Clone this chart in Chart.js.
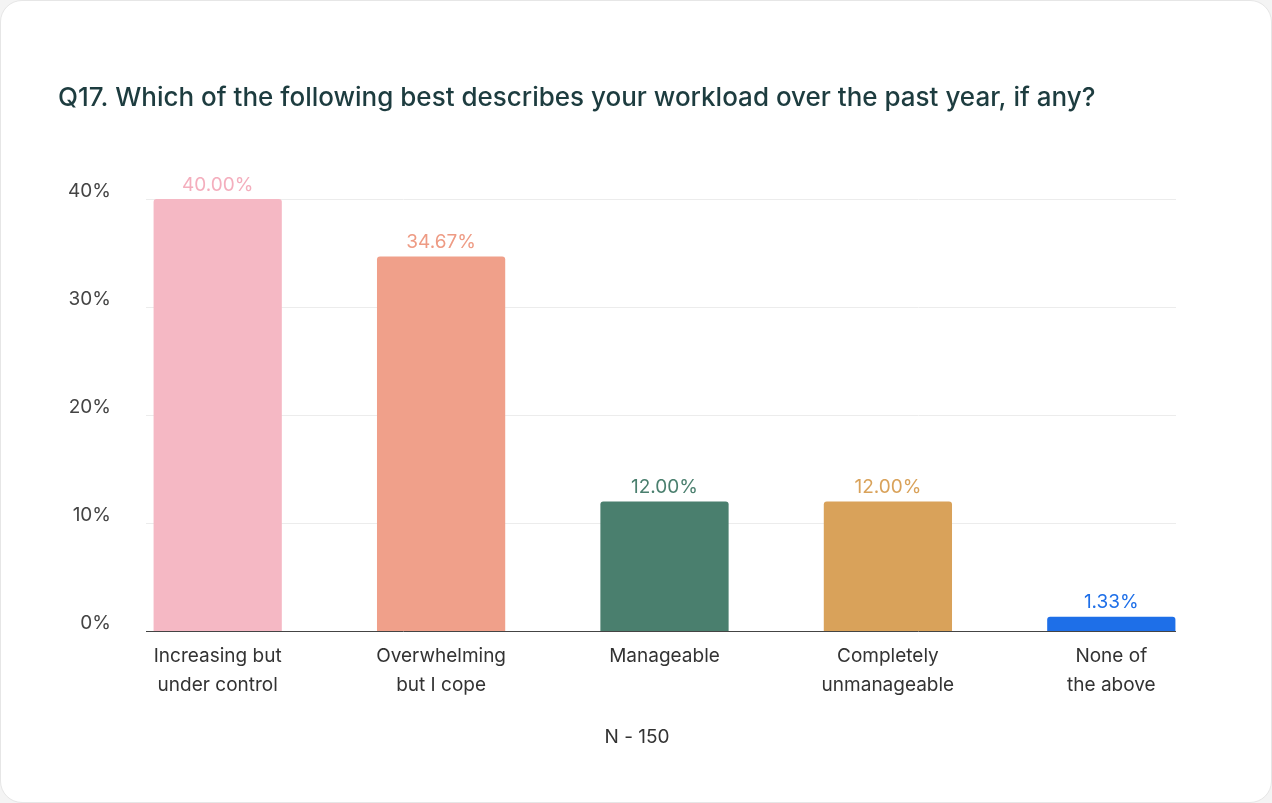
<!DOCTYPE html>
<html><head><meta charset="utf-8">
<script src="https://cdn.jsdelivr.net/npm/chart.js@4"></script>
<style>
html,body{margin:0;padding:0;background:#f4f4f4;}
#wrap{position:absolute;left:0;top:0;width:1270px;height:801px;background:#fff;border:1px solid #e6e6e6;border-radius:22px;overflow:hidden;}
canvas{display:block;}
</style></head><body>
<div id="wrap"><canvas id="c" width="1270" height="801"></canvas></div>
<script>
const title = "Q17. Which of the following best describes your workload over the past year, if any?";
const categories = [["Increasing but","under control"],["Overwhelming","but I cope"],["Manageable"],["Completely","unmanageable"],["None of","the above"]];
const values = [40.00, 34.67, 12.00, 12.00, 1.33];
const barColors = ["#f5b8c4","#f0a08a","#4a7f6e","#d9a25a","#1e6fe8"];
const labelColors = ["#f4aebd","#ee9b84","#4a7f6e","#d9a25a","#1e6fe8"];
const yTicks = [0,10,20,30,40];
const footer = "N - 150";
const FONT = "Inter, 'Open Sans', sans-serif";

const deco = {
  id:'deco',
  beforeDatasetsDraw(chart){
    const {ctx, scales:{y}} = chart;
    ctx.save();
    ctx.strokeStyle = "#ececec"; ctx.lineWidth = 1; ctx.setLineDash([]);
    yTicks.forEach(t=>{ if(t===0) return; const py=Math.round(y.getPixelForValue(t))+0.5; ctx.beginPath(); ctx.moveTo(145,py); ctx.lineTo(1175,py); ctx.stroke(); });
    ctx.fillStyle="#444"; ctx.font="19px "+FONT; ctx.textAlign="right"; ctx.textBaseline="middle";
    yTicks.forEach(t=>{ ctx.fillText(t+"%",110,y.getPixelForValue(t)-8); });
    ctx.restore();
  },
  afterDatasetsDraw(chart){
    const {ctx, scales:{x,y}} = chart;
    ctx.save();
    const py=Math.round(y.getPixelForValue(0))+0.5;
    ctx.strokeStyle="#444"; ctx.lineWidth=1; ctx.beginPath(); ctx.moveTo(145,py); ctx.lineTo(1175,py); ctx.stroke();
    ctx.font="19px "+FONT; ctx.textAlign="center"; ctx.textBaseline="middle";
    values.forEach((v,i)=>{ ctx.fillStyle=labelColors[i]; ctx.fillText(v.toFixed(2)+"%", x.getPixelForValue(i), y.getPixelForValue(v)-14); });
    ctx.fillStyle="#333";
    categories.forEach((c,i)=>{ c.forEach((l,j)=>ctx.fillText(l, x.getPixelForValue(i), 655+j*29)); });
    ctx.fillText(footer, 636, 736);
    ctx.fillStyle="#1d3c3f"; ctx.font="500 26px "+FONT; ctx.textAlign="left";
    ctx.fillText(title, 57, 97);
    ctx.restore();
  }
};

new Chart(document.getElementById('c'), {
  type:'bar',
  data:{labels:categories.map(c=>c.join(' ')), datasets:[{data:values, backgroundColor:barColors, borderRadius:{topLeft:3,topRight:3}, borderSkipped:'bottom', barPercentage:1, categoryPercentage:0.574}]},
  options:{
    responsive:false, animation:false,
    layout:{padding:{left:105,right:48,top:198,bottom:171}},
    plugins:{legend:{display:false},tooltip:{enabled:false}},
    scales:{
      x:{display:false},
      y:{display:false,min:0,max:40}
    }
  },
  plugins:[deco]
});
</script></body></html>
